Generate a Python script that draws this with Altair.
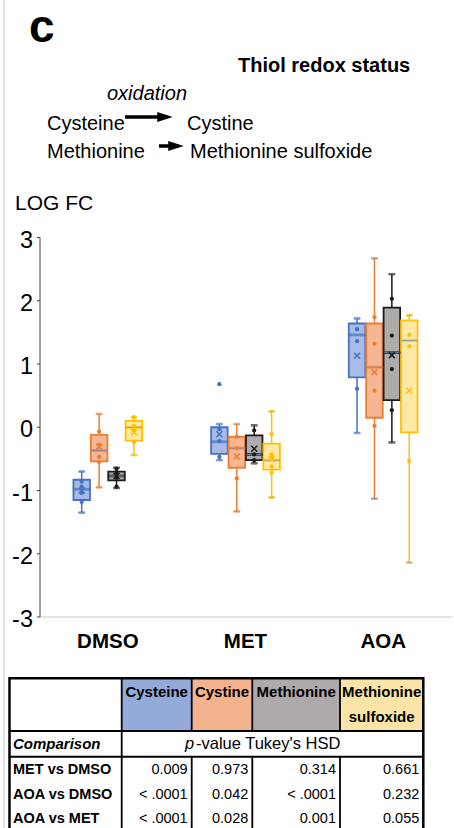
import altair as alt
import pandas as pd

# ---------------- data ----------------
groups = ["DMSO", "MET", "AOA"]
metabolites = ["Cysteine", "Cystine", "Methionine", "Methionine sulfoxide"]

# per group (rows) and metabolite (columns), LOG FC
whisker_low = [[-1.35, -0.95, -0.96, -0.44], [-0.52, -1.33, -0.57, -1.11], [-0.09, -1.13, -0.24, -2.14]]
q1 = [[-1.15, -0.54, -0.84, -0.21], [-0.42, -0.64, -0.52, -0.67], [0.79, 0.15, 0.43, -0.08]]
median = [[-0.98, -0.37, -0.77, 0.00], [-0.23, -0.33, -0.43, -0.52], [1.46, 0.95, 1.18, 1.37]]
q3 = [[-0.83, -0.12, -0.70, 0.10], [0.00, -0.15, -0.13, -0.26], [1.64, 1.64, 1.89, 1.69]]
whisker_high = [[-0.70, 0.21, -0.64, 0.16], [0.05, 0.05, 0.03, 0.25], [1.72, 2.67, 2.42, 1.77]]
mean = [[-1.00, -0.31, -0.77, -0.08], [-0.11, -0.46, -0.34, -0.50], [1.13, 0.87, 1.14, 0.58]]
points = [
    [[-0.86, -0.94, -1.04, -1.18], [-0.07, -0.28, -0.47, -0.55], [-0.66, -0.73, -0.80, -0.94], [0.16, 0.02, -0.05, -0.24]],
    [[0.68, -0.03, -0.22, -0.47], [-0.15, -0.33, -0.81], [-0.05, -0.43, -0.52], [-0.11, -0.43, -0.48, -0.62, -0.72]],
    [[1.55, 1.36, 0.61], [1.74, 1.32, 0.58, 0.02], [2.03, 1.45, 0.92, 0.27], [1.46, 1.28, -0.53]],
]
y_ticks = [-3, -2, -1, 0, 1, 2, 3]

comparisons = ["MET vs DMSO", "AOA vs DMSO", "AOA vs MET"]
pvalues = [
    ["0.009", "< .0001", "< .0001"],   # Cysteine
    ["0.973", "0.042", "0.028"],       # Cystine
    ["0.314", "< .0001", "0.001"],     # Methionine
    ["0.661", "0.232", "0.055"],       # Methionine sulfoxide
]

# ---------------- styles / layout ----------------
FONT = "Liberation Sans"
line_colors = ["#4472C4", "#ED7D31", "#1a1a1a", "#FFC000"]
fill_colors = ["#A7BBE4", "#F5B793", "#AEABAB", "#FFE8A6"]
header_fill = ["#93AADA", "#F2B38D", "#AEAAAA", "#FCE4A6"]
col_edges = [9.5, 121.7, 191.7, 252.3, 340.0, 423.3]
row_edges = [678.3, 731.0, 756.7, 782.7, 806.7, 830.7]
W, H = 454, 828

# ---------------- tables ----------------
box_rows, pt_rows = [], []
for gi, g in enumerate(groups):
    for mi, m in enumerate(metabolites):
        box_rows.append(dict(group=g, met=m, lo=whisker_low[gi][mi], q1=q1[gi][mi],
                             med=median[gi][mi], q3=q3[gi][mi], hi=whisker_high[gi][mi],
                             mean=mean[gi][mi]))
        for v in points[gi][mi]:
            pt_rows.append(dict(group=g, met=m, v=v))
box_df = pd.DataFrame(box_rows)
pt_df = pd.DataFrame(pt_rows)
tick_df = pd.DataFrame({"v": y_ticks, "lab": [str(t) for t in y_ticks]})
grp_df = pd.DataFrame({"group": groups})
one = pd.DataFrame({"a": [0]})

xs = alt.Scale(domain=groups, range=[39, 452], paddingInner=0, paddingOuter=0)
xo = alt.Scale(domain=metabolites, range=[34.45, 103.2], paddingInner=0.05, paddingOuter=0)
ys = alt.Scale(domain=[-3, 3], range=[617, 237.5], nice=False, zero=False)
# pixel (layout) scales for annotation and table layers
px = alt.Scale(domain=[0, W], range=[0, W], nice=False, zero=False)
py = alt.Scale(domain=[0, H], range=[0, H], nice=False, zero=False)

X = alt.X("group:N", scale=xs, axis=None)
XO = alt.XOffset("met:N", scale=xo)
STROKE = alt.Stroke("met:N", scale=alt.Scale(domain=metabolites, range=line_colors), legend=None)
FILL = alt.Fill("met:N", scale=alt.Scale(domain=metabolites, range=fill_colors), legend=None)
COLOR = alt.Color("met:N", scale=alt.Scale(domain=metabolites, range=line_colors), legend=None)


def PX(f):
    return alt.X(f, scale=px, axis=None)


def PY(f):
    return alt.Y(f, scale=py, axis=None)


base = alt.Chart(box_df)
YS = lambda f: alt.Y(f, scale=ys, axis=None)
whisk = base.mark_rule(strokeWidth=1.5).encode(x=X, xOffset=XO, y=YS("lo:Q"), y2="hi:Q", stroke=STROKE)
cap_lo = base.mark_tick(size=6, thickness=1.5).encode(x=X, xOffset=XO, y=YS("lo:Q"), stroke=STROKE)
cap_hi = base.mark_tick(size=6, thickness=1.5).encode(x=X, xOffset=XO, y=YS("hi:Q"), stroke=STROKE)
box = base.mark_bar(strokeWidth=1.8).encode(x=X, xOffset=XO, y=YS("q1:Q"), y2="q3:Q", fill=FILL, stroke=STROKE)
med = base.mark_tick(size=16.5, thickness=1.8).encode(x=X, xOffset=XO, y=YS("med:Q"), stroke=STROKE)
mean_x = base.mark_point(shape="M-1,-1L1,1M-1,1L1,-1", size=36, strokeWidth=1.5, filled=False, opacity=1).encode(
    x=X, xOffset=XO, y=YS("mean:Q"), stroke=STROKE)
dots = alt.Chart(pt_df).mark_circle(size=18, opacity=1).encode(x=X, xOffset=XO, y=YS("v:Q"), color=COLOR)

# axes drawn from the scales
y_line = alt.Chart(one).mark_rule(color="#404040", strokeWidth=1).encode(x=alt.value(40), y=alt.value(237.5), y2=alt.value(617))
x_line = alt.Chart(one).mark_rule(color="#dcdcdc", strokeWidth=1.5).encode(x=alt.value(40), x2=alt.value(453), y=alt.value(617))
y_tk = alt.Chart(tick_df).mark_rule(color="#404040", strokeWidth=1).encode(x=alt.value(37), x2=alt.value(40), y=YS("v:Q"))
y_lab = alt.Chart(tick_df).mark_text(font=FONT, fontSize=23.5, align="right", baseline="middle", dy=3, color="black").encode(
    x=alt.value(33), y=YS("v:Q"), text="lab:N")
x_lab = alt.Chart(grp_df).mark_text(font=FONT, fontSize=20.5, fontWeight="bold", baseline="middle", color="black").encode(
    x=X, y=alt.value(642), text="group:N")


def txt(s, x, y, size, weight="normal", style="normal", align="left", baseline="alphabetic"):
    return alt.Chart(one).mark_text(text=s, font=FONT, fontSize=size, fontWeight=weight, fontStyle=style,
                                    align=align, baseline=baseline, color="black").encode(x=alt.value(x), y=alt.value(y))


header = [
    txt("c", 29, 42, 46, weight="bold"),
    txt("Thiol redox status", 238, 72, 20, weight="bold"),
    txt("oxidation", 107, 100, 20, style="italic"),
    txt("Cysteine", 47, 130, 20),
    txt("Cystine", 187, 130, 20),
    txt("Methionine", 47, 158, 20),
    txt("Methionine sulfoxide", 190, 158, 20),
    txt("LOG FC", 15, 210, 21),
]
arrow_lines = alt.Chart(pd.DataFrame({"x": [125, 159], "x2": [160, 172], "y": [117, 146]})).mark_rule(
    color="black", strokeWidth=3.5).encode(x=PX("x:Q"), x2="x2:Q", y=PY("y:Q"))
arrow_heads = alt.Chart(pd.DataFrame({"x": [165, 176], "y": [117, 146]})).mark_point(
    shape="M-1,-0.65L1,0L-1,0.65Z", filled=True, color="black", opacity=1, size=240).encode(
    x=PX("x:Q"), y=PY("y:Q"))
page_edge = alt.Chart(one).mark_rule(color="#d8d8d8", strokeWidth=1.5).encode(x=alt.value(4), y=alt.value(0), y2=alt.value(H))

# ---------------- table ----------------
hdr_cells = pd.DataFrame({"x": col_edges[1:5], "x2": col_edges[2:6], "y": [row_edges[0]] * 4,
                          "y2": [row_edges[1]] * 4, "met": metabolites})
hdr_rect = alt.Chart(hdr_cells).mark_rect().encode(
    x=PX("x:Q"), x2="x2:Q", y=PY("y:Q"), y2="y2:Q",
    fill=alt.Fill("met:N", scale=alt.Scale(domain=metabolites, range=header_fill), legend=None))

hdr_txt_rows = []
for i, m in enumerate(metabolites):
    parts = [m] if i < 3 else m.split(" ")
    for k, p in enumerate(parts):
        hdr_txt_rows.append(dict(t=p, x=(col_edges[i + 1] + col_edges[i + 2]) / 2, y=692 + 24.5 * k))
hdr_txt = alt.Chart(pd.DataFrame(hdr_txt_rows)).mark_text(font=FONT, fontSize=15, fontWeight="bold",
                                                           baseline="middle", color="black").encode(
    x=PX("x:Q"), y=PY("y:Q"), text="t:N")

row_c = [(row_edges[i] + row_edges[i + 1]) / 2 for i in range(5)]
val_rows = []
for ci in range(4):
    for ri in range(3):
        val_rows.append(dict(t=pvalues[ci][ri], x=col_edges[ci + 2] - 4, y=row_c[ri + 2]))
val_txt = alt.Chart(pd.DataFrame(val_rows)).mark_text(font=FONT, fontSize=14.5, align="right",
                                                      baseline="middle", color="black").encode(
    x=PX("x:Q"), y=PY("y:Q"), text="t:N")
cmp_txt = alt.Chart(pd.DataFrame({"t": comparisons, "y": row_c[2:5]})).mark_text(
    font=FONT, fontSize=14.5, fontWeight="bold", align="left", baseline="middle", color="black").encode(
    x=alt.value(13), y=PY("y:Q"), text="t:N")
comp_lbl = txt("Comparison", 13, row_c[1], 15, weight="bold", style="italic", baseline="middle")
p_lbl = txt("p", 185, row_c[1], 16.5, style="italic", baseline="middle")
pv_lbl = txt("-value Tukey's HSD", 196, row_c[1], 16.5, baseline="middle")

# table lines
h_lines = pd.DataFrame({"x": [col_edges[0]] * 2, "x2": [col_edges[5]] * 2, "y": [row_edges[1], row_edges[2]]})
hl = alt.Chart(h_lines).mark_rule(color="black", strokeWidth=2).encode(x=PX("x:Q"), x2="x2:Q", y=PY("y:Q"))
v_rows = []
for e in col_edges[1:5]:
    v_rows.append(dict(x=e, y=row_edges[0], y2=row_edges[1]))
    v_rows.append(dict(x=e, y=row_edges[2], y2=row_edges[5]))
v_rows.append(dict(x=col_edges[1], y=row_edges[1], y2=row_edges[2]))
vl = alt.Chart(pd.DataFrame(v_rows)).mark_rule(color="black", strokeWidth=1.8).encode(
    x=PX("x:Q"), y=PY("y:Q"), y2="y2:Q")
outer = alt.Chart(pd.DataFrame({"x": [col_edges[0]], "x2": [col_edges[5]], "y": [row_edges[0]], "y2": [row_edges[5]]})).mark_rect(
    fill="transparent", stroke="black", strokeWidth=2.5).encode(
    x=PX("x:Q"), x2="x2:Q", y=PY("y:Q"), y2="y2:Q")

chart = alt.layer(
    page_edge, *header, arrow_lines, arrow_heads,
    x_line, y_line, y_tk, y_lab, x_lab,
    whisk, cap_lo, cap_hi, box, med, dots, mean_x,
    hdr_rect, hdr_txt, hl, vl, outer, val_txt, cmp_txt, comp_lbl, p_lbl, pv_lbl,
).resolve_scale(x="independent", y="independent", fill="independent").properties(
    width=W, height=H, autosize="none", padding=0, background="white"
).configure_view(strokeWidth=0)

chart.save("out.html", embed_options={"renderer": "svg", "actions": False})
